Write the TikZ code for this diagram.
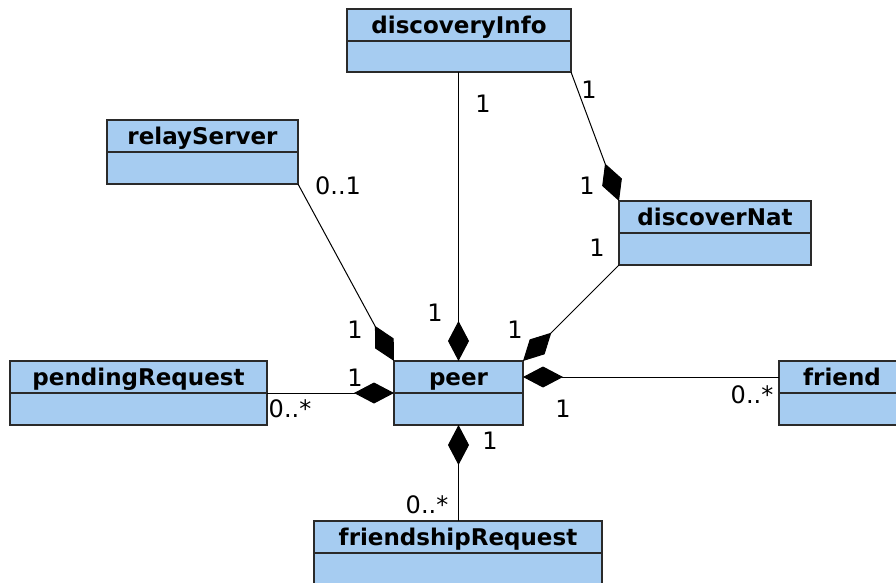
\documentclass[tikz,border=0pt]{standalone}
\usepackage{fontspec}
\setmainfont{DejaVu Sans}
\usetikzlibrary{arrows.meta}
\definecolor{boxblue}{HTML}{A6CCF1}
\definecolor{edge}{HTML}{2A2A2A}
\tikzset{
  cls/.style={draw=edge, fill=boxblue, line width=1.3pt, inner sep=0pt, outer sep=0pt, anchor=north west},
  divider/.style={draw=edge, line width=1.3pt},
  cname/.style={font=\fontsize{23}{23}\selectfont\bfseries, inner sep=0pt, anchor=base},
  comp/.style={-{Diamond[length=40pt,width=21pt]}, line width=1pt},
  lbl/.style={font=\fontsize{24}{24}\selectfont, inner sep=0pt}
}
\newcommand\uclass[6]{%
  \node[cls, minimum width={(#4-#2)*1pt}, minimum height={(#5-#3)*1pt}] (#1) at (#2,#3) {};
  \draw[divider] ([yshift=-32pt]#1.north west) -- ([yshift=-32pt]#1.north east);
  \node[cname] (#1-t) at ([yshift=-24.5pt]#1.north) {#6};
}
\begin{document}
\begin{tikzpicture}[x=1pt,y=-1pt]
\useasboundingbox (0,0) rectangle (896,583);
\clip (0,0) rectangle (896,583);
\fill[white] (0,0) rectangle (896,583);

\uclass{discoveryInfo}{347}{9}{571}{72}{discoveryInfo}
\uclass{relayServer}{107}{120}{298}{184}{relayServer}
\uclass{discoverNat}{619}{201}{811}{265}{discoverNat}
\uclass{peer}{394}{361}{523}{425}{peer}
\uclass{pendingRequest}{10}{361}{267}{425}{pendingRequest}
\uclass{friend}{779}{361}{905}{425}{friend}
\uclass{friendshipRequest}{314}{521}{602}{585}{friendshipRequest}

% connectors
\draw[comp] (peer.north |- discoveryInfo.south) -- (peer.north);
\draw[comp] (discoveryInfo.south east) -- (discoverNat.north west);
\draw[comp] (relayServer.south east) -- (peer.north west);
\draw[comp] (discoverNat.south west) -- (peer.north east);
\draw[comp] (pendingRequest.east) -- (peer.west);
\draw[comp] ([yshift=-16pt]friend.north west) -- ([yshift=-16pt]peer.north east);
\draw[comp] (peer.south |- friendshipRequest.north) -- (peer.south);

% multiplicities
\node[lbl] (m1) at (483,104) {1};
\node[lbl] (m2) at (435,313) {1};
\node[lbl] (m3) at (589,90) {1};
\node[lbl] (m4) at (587,186) {1};
\node[lbl] (m5) at (338,186) {0..1};
\node[lbl] (m6) at (355,330) {1};
\node[lbl] (m7) at (597,248) {1};
\node[lbl] (m8) at (515,330) {1};
\node[lbl] (m9) at (355,378) {1};
\node[lbl] (m10) at (290,409) {0..*};
\node[lbl] (m11) at (752,395) {0..*};
\node[lbl] (m12) at (563,409) {1};
\node[lbl] (m13) at (490,441) {1};
\node[lbl] (m14) at (427,505) {0..*};
\end{tikzpicture}
\end{document}
